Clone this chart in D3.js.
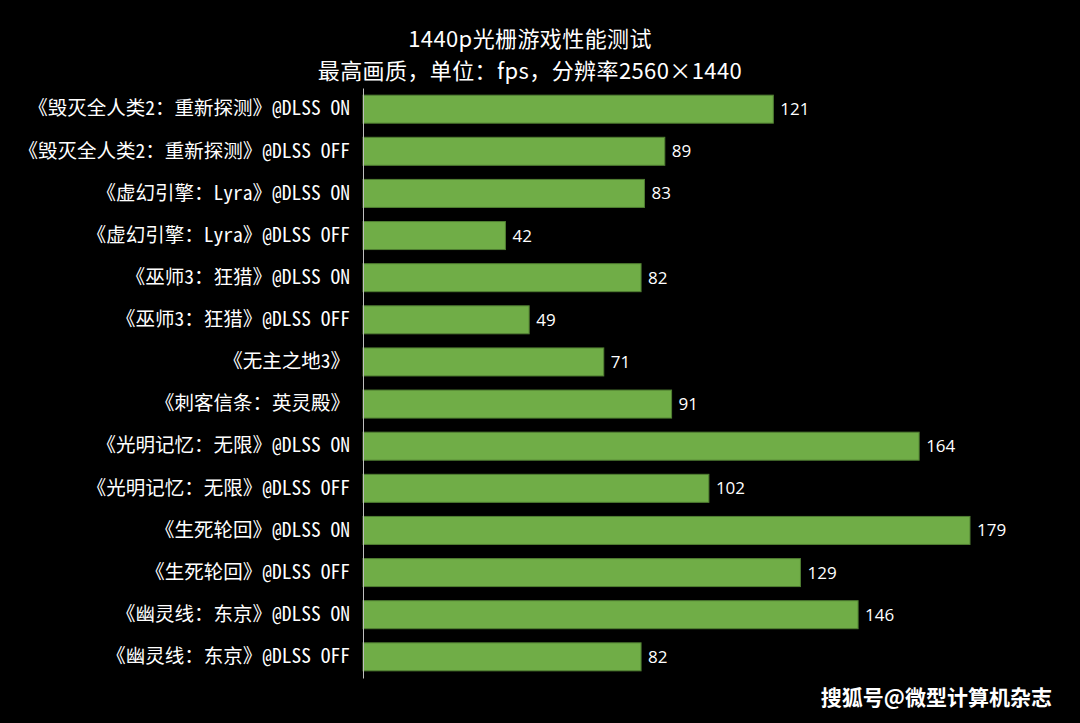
<!DOCTYPE html>
<html><head><meta charset="utf-8">
<script src="https://cdn.jsdelivr.net/npm/d3@7"></script>
<style>html,body{margin:0;padding:0;background:#000;}svg{display:block;}</style>
</head><body>
<svg id="chart" width="1080" height="723"></svg>
<script>
const categories = [
  "《毁灭全人类2：重新探测》@DLSS ON",
  "《毁灭全人类2：重新探测》@DLSS OFF",
  "《虚幻引擎：Lyra》@DLSS ON",
  "《虚幻引擎：Lyra》@DLSS OFF",
  "《巫师3：狂猎》@DLSS ON",
  "《巫师3：狂猎》@DLSS OFF",
  "《无主之地3》",
  "《刺客信条：英灵殿》",
  "《光明记忆：无限》@DLSS ON",
  "《光明记忆：无限》@DLSS OFF",
  "《生死轮回》@DLSS ON",
  "《生死轮回》@DLSS OFF",
  "《幽灵线：东京》@DLSS ON",
  "《幽灵线：东京》@DLSS OFF"
];
const fpsValues = [121, 89, 83, 42, 82, 49, 71, 91, 164, 102, 179, 129, 146, 82];
const titleLines = ["1440p光栅游戏性能测试", "最高画质，单位：fps，分辨率2560×1440"];
const watermark = "搜狐号@微型计算机杂志";

(function () {
const svg = d3.select("#chart");
const W = 1080, H = 723;
svg.append("rect").attr("width", W).attr("height", H).attr("fill", "#000");

const mLeft = 363, mTop = 88, mBottom = 678;
const x = d3.scaleLinear().domain([0, 179]).range([mLeft, 970]);
const y = d3.scaleBand().domain(categories).range([mTop, mBottom]).paddingInner(0.335).paddingOuter(0.17);

const cjk = "'Noto Sans CJK SC', 'Noto Sans', sans-serif";
const mono = "'Noto Sans Mono CJK SC', 'DejaVu Sans Mono', 'Noto Sans CJK SC', monospace";

svg.append("g").selectAll("text").data(titleLines).join("text")
  .attr("x", 530).attr("y", (d, i) => 47 + i * 32)
  .attr("text-anchor", "middle").attr("fill", "#fff")
  .style("font-family", cjk).style("font-size", "22px")
  .style("letter-spacing", "0.4px")
  .text(d => d);

const data = categories.map((c, i) => ({c, v: fpsValues[i]}));

svg.append("g").selectAll("rect").data(data).join("rect")
  .attr("x", x(0)).attr("y", d => y(d.c))
  .attr("width", d => x(d.v) - x(0)).attr("height", y.bandwidth())
  .attr("fill", "#70AD47").attr("stroke", "#507E32").attr("stroke-width", 1);

svg.append("g").selectAll("text").data(data).join("text")
  .attr("x", d => x(d.v) + 7).attr("y", d => y(d.c) + y.bandwidth() / 2)
  .attr("dy", "0.35em").attr("fill", "#fff")
  .style("font-family", "'Open Sans', 'Noto Sans', sans-serif").style("font-size", "17px")
  .text(d => d.v);

const yAxis = d3.axisLeft(y).tickSize(0).tickPadding(13);
const ga = svg.append("g").attr("transform", `translate(${mLeft},0)`).call(yAxis);
ga.select(".domain").attr("stroke", "#bfbfbf").attr("stroke-width", 1);
ga.selectAll("text").attr("fill", "#fff")
  .style("font-family", mono).style("font-size", "19.5px");

svg.append("text").attr("x", 1052).attr("y", 705).attr("text-anchor", "end")
  .attr("fill", "#fff").style("font-family", cjk).style("font-size", "21px")
  .style("font-weight", "bold").text(watermark);
})();
</script>
</body></html>
